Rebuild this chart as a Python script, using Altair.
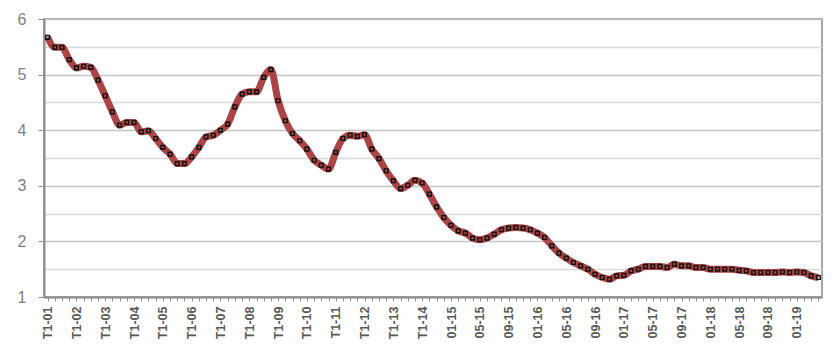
import altair as alt
import pandas as pd

quarter_years = ["01", "02", "03", "04", "05", "06", "07", "08", "09", "10", "11", "12", "13", "14"]
quarters = ["T1", "T2", "T3", "T4"]
month_years = ["15", "16", "17", "18", "19"]
months = ["01", "02", "03", "04", "05", "06", "07", "08", "09", "10", "11", "12"]

periods = [f"{q}-{y}" for y in quarter_years for q in quarters] + \
          [f"{m}-{y}" for y in month_years for m in months][:52]

values = [
    5.67, 5.49, 5.49, 5.27, 5.12, 5.15, 5.13, 4.90, 4.62, 4.33,
    4.09, 4.14, 4.14, 3.97, 3.99, 3.85, 3.69, 3.57, 3.40, 3.40,
    3.52, 3.69, 3.88, 3.91, 4.00, 4.11, 4.42, 4.65, 4.69, 4.69,
    4.95, 5.09, 4.53, 4.17, 3.94, 3.81, 3.66, 3.46, 3.37, 3.30,
    3.60, 3.85, 3.91, 3.89, 3.92, 3.66, 3.49, 3.27, 3.09, 2.95,
    3.01, 3.10, 3.05, 2.85, 2.62, 2.43,
    2.29, 2.19, 2.15, 2.06, 2.03, 2.06, 2.13, 2.21, 2.24, 2.25,
    2.24, 2.21, 2.15, 2.07, 1.92, 1.79, 1.70, 1.62, 1.56, 1.50,
    1.41, 1.35, 1.32, 1.38, 1.39, 1.47, 1.50, 1.55, 1.55, 1.55,
    1.53, 1.59, 1.56, 1.56, 1.53, 1.53, 1.50, 1.50, 1.50, 1.50,
    1.48, 1.47, 1.44, 1.44, 1.44, 1.44, 1.45, 1.44, 1.45, 1.44,
    1.38, 1.35,
]

y_ticks = [1, 1.5, 2, 2.5, 3, 3.5, 4, 4.5, 5, 5.5, 6]

df = pd.DataFrame({"period": periods, "value": values})

x_enc = alt.X(
    "period:O",
    sort=periods,
    title=None,
    axis=alt.Axis(
        labelAngle=270,
        labelAlign="right",
        labelBaseline="middle",
        labelExpr="test(/^(T1|01|05|09)-/, datum.label) ? datum.label : ''",
        labelOverlap=False,
        labelFont="Liberation Sans",
        labelFontWeight="bold",
        labelFontSize=12.5,
        labelColor="#595959",
        labelPadding=5,
        domainColor="#8c8c8c",
        domainWidth=2,
        tickColor="#8c8c8c",
        tickSize=4,
        tickWidth=1,
        grid=False,
    ),
)

y_enc = alt.Y(
    "value:Q",
    title=None,
    scale=alt.Scale(domain=[1, 6], nice=False, zero=False),
    axis=alt.Axis(
        values=y_ticks,
        format="~g",
        labelExpr="datum.value % 1 === 0 ? datum.label : ''",
        labelFont="Liberation Sans",
        labelFontSize=16,
        labelColor="#7f7f7f",
        labelPadding=12,
        domainColor="#8c8c8c",
        domainWidth=2,
        tickColor={"condition": {"test": "datum.value % 1 === 0", "value": "#8c8c8c"}, "value": "rgba(0,0,0,0)"},
        tickSize=6,
        grid=True,
        gridColor={"condition": {"test": "datum.value % 1 === 0", "value": "#c4c4c4"}, "value": "#d9d9d9"},
        gridWidth=1.5,
    ),
)

line = alt.Chart(df).mark_line(
    color="#ab4444", strokeWidth=7, interpolate="monotone"
).encode(x=x_enc, y=y_enc)

points = alt.Chart(df).mark_point(
    shape="square", filled=False, size=14, strokeWidth=1.4, color="#111111", opacity=1
).encode(x=x_enc, y=y_enc)

chart = alt.layer(line, points).properties(
    width=778,
    height=278,
    autosize=alt.AutoSizeParams(type="none"),
    padding={"left": 44, "top": 19, "right": 12, "bottom": 57},
).configure_view(stroke="#a6a6a6", strokeWidth=2)

chart.save("out.html", embed_options={"renderer": "svg", "actions": False})
